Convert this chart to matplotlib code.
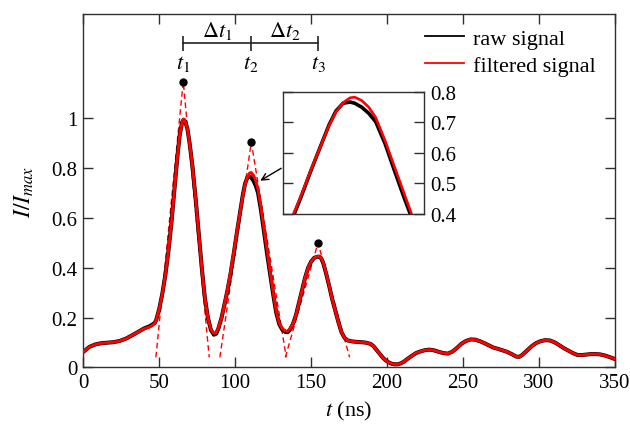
import matplotlib
matplotlib.use('Agg')
import matplotlib.pyplot as plt
from matplotlib.lines import Line2D

plt.rcParams['font.family'] = ['Liberation Serif', 'DejaVu Serif']
plt.rcParams['mathtext.fontset'] = 'stix'

# ---------------- data ----------------
filt_t = [0, 4, 8, 12, 16, 20, 24, 28, 32, 36, 40, 44, 47,
          48, 50, 52, 54, 56, 58, 60, 62, 63.5, 65, 66, 67, 68.5, 70, 72, 74, 76, 78, 80, 82, 84, 86, 87.5,
          89, 91, 93, 95, 97, 99, 101, 103, 105, 106.5, 108, 109.5, 110.5, 112, 113.5, 115, 117, 119, 121,
          123, 125, 127, 129, 131, 133, 134.5, 136, 138, 140, 142, 144, 146, 148, 150, 152, 154, 155, 156.5,
          158, 160, 162, 164, 166, 168, 170, 172, 174, 177, 180, 183, 186, 189, 191, 193, 195, 197, 199, 201,
          203, 205, 207, 209, 211, 213, 216, 219, 222, 225, 228, 231, 234, 237, 240, 243, 246, 249, 252, 255,
          258, 261, 264, 267, 270, 273, 276, 279, 282, 285, 287, 289, 292, 295, 298, 301, 304, 307, 310, 313,
          316, 319, 322, 325, 328, 331, 334, 337, 340, 343, 346, 350]
filt_y = [0.062, 0.082, 0.092, 0.097, 0.099, 0.101, 0.106, 0.115, 0.128, 0.142, 0.155, 0.163, 0.176,
          0.19, 0.235, 0.295, 0.37, 0.465, 0.58, 0.715, 0.85, 0.935, 0.985, 0.997, 0.99, 0.96, 0.90, 0.80, 0.675, 0.535, 0.40, 0.28, 0.20, 0.152, 0.136, 0.14,
          0.16, 0.20, 0.255, 0.315, 0.385, 0.46, 0.54, 0.615, 0.69, 0.735, 0.765, 0.781, 0.783, 0.772, 0.75, 0.716, 0.64, 0.555, 0.47,
          0.385, 0.30, 0.225, 0.177, 0.155, 0.146, 0.145, 0.155, 0.175, 0.21, 0.26, 0.31, 0.36, 0.40, 0.425, 0.44, 0.445, 0.446, 0.44,
          0.42, 0.375, 0.325, 0.27, 0.225, 0.18, 0.14, 0.118, 0.108, 0.104, 0.102, 0.101, 0.099, 0.094, 0.085, 0.07, 0.055, 0.04, 0.028, 0.02,
          0.014, 0.012, 0.012, 0.016, 0.022, 0.032, 0.045, 0.057, 0.064, 0.069, 0.071, 0.068, 0.062, 0.057, 0.055, 0.063, 0.078, 0.095, 0.106, 0.112,
          0.111, 0.105, 0.097, 0.088, 0.079, 0.074, 0.068, 0.062, 0.053, 0.043, 0.042, 0.05, 0.067, 0.084, 0.097, 0.105, 0.109, 0.108, 0.101, 0.09,
          0.078, 0.068, 0.058, 0.05, 0.049, 0.051, 0.053, 0.053, 0.052, 0.048, 0.042, 0.033]

raw_t = filt_t
raw_y = [0.062, 0.082, 0.092, 0.097, 0.099, 0.101, 0.106, 0.115, 0.128, 0.142, 0.156, 0.166, 0.178,
         0.19, 0.235, 0.295, 0.37, 0.465, 0.58, 0.715, 0.85, 0.935, 0.984, 0.995, 0.989, 0.96, 0.90, 0.80, 0.675, 0.535, 0.40, 0.28, 0.20, 0.15, 0.131, 0.135,
         0.157, 0.199, 0.254, 0.312, 0.378, 0.455, 0.537, 0.615, 0.692, 0.738, 0.763, 0.767, 0.763, 0.75, 0.73, 0.702, 0.63, 0.542, 0.456,
         0.375, 0.293, 0.22, 0.173, 0.151, 0.142, 0.141, 0.151, 0.174, 0.21, 0.26, 0.31, 0.36, 0.40, 0.425, 0.44, 0.444, 0.445, 0.439,
         0.418, 0.373, 0.323, 0.27, 0.225, 0.18, 0.14, 0.118, 0.108, 0.104, 0.102, 0.101, 0.099, 0.094, 0.085, 0.07, 0.055, 0.04, 0.028, 0.02,
         0.014, 0.012, 0.012, 0.016, 0.022, 0.032, 0.045, 0.057, 0.064, 0.069, 0.071, 0.068, 0.062, 0.057, 0.055, 0.063, 0.078, 0.095, 0.106, 0.112,
         0.111, 0.105, 0.097, 0.088, 0.079, 0.074, 0.068, 0.062, 0.053, 0.043, 0.042, 0.05, 0.067, 0.084, 0.097, 0.105, 0.109, 0.108, 0.101, 0.09,
         0.078, 0.068, 0.058, 0.05, 0.049, 0.051, 0.053, 0.053, 0.052, 0.048, 0.042, 0.033]

# tangent construction: apex (t, y) and feet of each peak
apex_t = [65.8, 110.6, 154.5]
apex_y = [1.148, 0.905, 0.50]
foot_left = [47.8, 89.9, 133.0]
foot_right = [82.9, 133.6, 175.3]
foot_y = 0.04

peak_labels = [r'$t_1$', r'$t_2$', r'$t_3$']
delta_labels = [r'$\Delta t_1$', r'$\Delta t_2$']

x_ticks = [0, 50, 100, 150, 200, 250, 300, 350]
y_ticks = [0, 0.2, 0.4, 0.6, 0.8, 1]
y_ticklabels = ['0', '0.2', '0.4', '0.6', '0.8', '1']
inset_ticks = [0.4, 0.5, 0.6, 0.7, 0.8]
inset_ticklabels = ['0.4', '0.5', '0.6', '0.7', '0.8']

RED = '#ff0000'
SPINE = '#303030'
FS = 15

fig = plt.figure(figsize=(6.3, 4.27), dpi=100)
ax = fig.add_axes([0.1322, 0.1375, 0.8440, 0.8274])
ax.set_xlim(0, 350)
ax.set_ylim(0, 1.42)

# tangent lines
for tl, ta, ya, tr in zip(foot_left, apex_t, apex_y, foot_right):
    ax.plot([tl, ta, tr], [foot_y, ya, foot_y], color=RED, lw=1.0,
            ls=(0, (4, 2.5)), zorder=1)

ax.plot(raw_t, raw_y, color='black', lw=2.9, solid_joinstyle='round', zorder=2)
ax.plot(filt_t, filt_y, color=RED, lw=2.1, solid_joinstyle='round', zorder=3)
ax.plot(apex_t, apex_y, 'o', color='black', ms=5, zorder=4)

# bracket
ybr = 1.303
ax.plot([apex_t[0], apex_t[2]], [ybr, ybr], color='#222222', lw=1.2, clip_on=False)
ax.vlines(apex_t, ybr - 0.03, ybr + 0.028, color='#222222', lw=1.2)
for i, lab in enumerate(delta_labels):
    ax.text((apex_t[i] + apex_t[i + 1]) / 2, ybr + 0.008, lab, ha='center', va='bottom', fontsize=16)
for tx, lab in zip(apex_t, peak_labels):
    ax.text(tx, ybr - 0.04, lab, ha='center', va='top', fontsize=16)

# axes styling
ax.set_xticks(x_ticks)
ax.set_yticks(y_ticks)
ax.set_yticklabels(y_ticklabels)
ax.tick_params(direction='in', length=7, width=1, top=True, right=True,
               labelsize=FS, pad=4, color=SPINE)
for s in ax.spines.values():
    s.set_color(SPINE)
    s.set_linewidth(1.0)
ax.set_xlabel(r'$t$ (ns)', fontsize=16, labelpad=5)
ax.set_ylabel(r'$I/I_{max}$', fontsize=17, labelpad=11)

# legend
handles = [Line2D([], [], color='black', lw=1.3), Line2D([], [], color=RED, lw=1.3)]
ax.legend(handles, ['raw signal', 'filtered signal'], loc='upper left',
          bbox_to_anchor=(425 / 630, 1 - 29 / 427), bbox_transform=fig.transFigure,
          frameon=False, fontsize=16, handlelength=1.75, handletextpad=0.4,
          borderpad=0, borderaxespad=0, labelspacing=0.3)

# arrow to inset
ax.annotate('', xy=(116.5, 0.75), xytext=(130.3, 0.80),
            arrowprops=dict(arrowstyle='->', lw=1.0, color='black',
                            shrinkA=0, shrinkB=0, mutation_scale=12))

# inset
axin = fig.add_axes([0.4497, 0.4972, 0.2238, 0.2850])
axin.plot(raw_t, raw_y, color='black', lw=2.6, solid_joinstyle='round')
axin.plot(filt_t, filt_y, color=RED, lw=1.9, solid_joinstyle='round')
axin.set_xlim(95.2, 125.4)
axin.set_ylim(0.4, 0.8)
axin.set_xticks([])
axin.set_yticks(inset_ticks)
axin.set_yticklabels(inset_ticklabels)
axin.tick_params(axis='y', direction='in', length=7, width=1, left=True, right=True,
                 labelleft=False, labelright=True, labelsize=FS, pad=4, color=SPINE)
for s in axin.spines.values():
    s.set_color(SPINE)
    s.set_linewidth(1.0)

fig.savefig('out.png', dpi=100)
